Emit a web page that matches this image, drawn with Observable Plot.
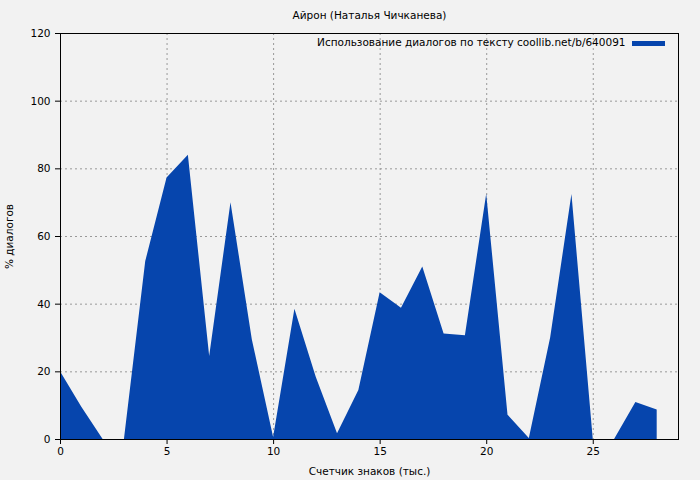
<!DOCTYPE html>
<html>
<head>
<meta charset="utf-8">
<script src="https://cdn.jsdelivr.net/npm/d3@7"></script>
<script src="https://cdn.jsdelivr.net/npm/@observablehq/plot@0.6"></script>
<style>
  html, body { margin: 0; padding: 0; background: #f2f2f2; }
</style>
</head>
<body>
<div id="chart"></div>
<script>
const title = "Айрон (Наталья Чичканева)";
const seriesName = "Использование диалогов по тексту coollib.net/b/640091";
const xLabel = "Счетчик знаков (тыс.)";
const yLabel = "% диалогов";
const xTicks = [0, 5, 10, 15, 20, 25];
const yTicks = [0, 20, 40, 60, 80, 100, 120];

const counts = [0, 1, 2, 3, 4, 5, 6, 7, 8, 9, 10, 11, 12, 13, 14, 15, 16, 17, 18, 19, 20, 21, 22, 23, 24, 25, 26, 27, 28];
const dialog = [20, 9.5, 0, 0, 52.6, 77.3, 84, 24.5, 70, 29.5, 0.6, 38.5, 18.4, 1.7, 14.5, 43.4, 38.8, 51, 31.2, 30.7, 72.5, 7.2, 0.3, 30, 72.4, 0, 0, 10.9, 8.7];

const data = counts.map((c, i) => ({x: c, y: dialog[i]}));

const fill = "#0645ad";
const font = "DejaVu Sans";
const fs = 10.5;

const chart = Plot.plot({
  width: 700,
  height: 480,
  marginLeft: 60,
  marginRight: 22,
  marginTop: 33,
  marginBottom: 41,
  style: {background: "#f2f2f2", fontFamily: font, fontSize: "10px", color: "#000"},
  x: {domain: [0, 29], ticks: xTicks, label: null},
  y: {domain: [0, 120], ticks: yTicks, label: null},
  marks: [
    Plot.gridX(xTicks, {stroke: "#999", strokeOpacity: 1, strokeDasharray: "2,3"}),
    Plot.gridY(yTicks, {stroke: "#999", strokeOpacity: 1, strokeDasharray: "2,3"}),
    Plot.areaY(data, {x: "x", y: "y", fill: fill}),
    Plot.frame({stroke: "#000"}),
    Plot.axisX(xTicks, {tickSize: 5, tickPadding: 3, fontSize: fs, label: null}),
    Plot.axisY(yTicks, {tickSize: 5, tickPadding: 5, fontSize: fs, label: null}),
    Plot.text([title], {frameAnchor: "top", dy: -22, fontSize: fs}),
    Plot.text([xLabel], {frameAnchor: "bottom", dy: 35, fontSize: fs}),
    Plot.text([yLabel], {frameAnchor: "left", dx: -51, rotate: -90, textAnchor: "middle", fontSize: fs}),
    Plot.text([seriesName], {frameAnchor: "top-right", dx: -53, dy: 5, textAnchor: "end", fontSize: fs})
  ]
});

// legend swatch
d3.select(chart).append("rect")
  .attr("x", 632).attr("y", 41).attr("width", 33).attr("height", 5)
  .attr("fill", fill);

document.getElementById("chart").appendChild(chart);
</script>
</body>
</html>
